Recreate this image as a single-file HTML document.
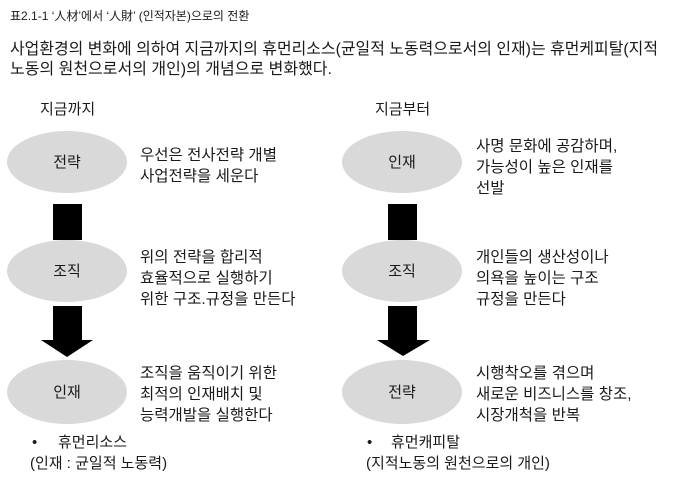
<!DOCTYPE html>
<html><head><meta charset="utf-8"><style>
body{margin:0;width:680px;height:483px;background:#fff;overflow:hidden}
svg text{font-family:"Liberation Sans","Noto Sans CJK KR",sans-serif;fill:#1a1a1a}
</style></head><body>
<svg width="680" height="483" xmlns="http://www.w3.org/2000/svg">
<text x="10" y="20" font-size="12">표2.1-1 ‘人材’에서 ‘人財’ (인적자본)으로의 전환</text>
<text x="10" y="54" font-size="16" textLength="648" lengthAdjust="spacingAndGlyphs">사업환경의 변화에 의하여 지금까지의 휴먼리소스(균일적 노동력으로서의 인재)는 휴먼케피탈(지적</text>
<text x="10" y="74" font-size="16">노동의 원천으로서의 개인)의 개념으로 변화했다.</text>
<text x="40" y="114" font-size="15">지금까지</text>
<text x="375" y="114" font-size="15">지금부터</text>
<g fill="#d9d9d9">
<ellipse cx="67" cy="162" rx="60" ry="31"/>
<ellipse cx="67" cy="271" rx="60" ry="31"/>
<ellipse cx="67" cy="392" rx="60" ry="32"/>
<ellipse cx="402" cy="162" rx="60" ry="31"/>
<ellipse cx="402" cy="271" rx="60" ry="31"/>
<ellipse cx="402" cy="392" rx="60" ry="32"/>
</g>
<g fill="#000">
<rect x="53" y="204" width="29" height="36"/>
<polygon points="53,306 82,306 82,340 93,340 67,357 41,340 53,340"/>
<rect x="388" y="204" width="29" height="36"/>
<polygon points="388,306 417,306 417,340 430,340 403,356 377,340 388,340"/>
</g>
<g font-size="15" text-anchor="middle">
<text x="67" y="167">전략</text><text x="67" y="276">조직</text><text x="67" y="397">인재</text>
<text x="402" y="167">인재</text><text x="402" y="276">조직</text><text x="402" y="397">전략</text>
</g>
<g font-size="15.5">
<text x="140" y="160">우선은 전사전략 개별</text>
<text x="140" y="181">사업전략을 세운다</text>
<text x="140" y="262">위의 전략을 합리적</text>
<text x="140" y="283">효율적으로 실행하기</text>
<text x="140" y="304">위한 구조.규정을 만든다</text>
<text x="140" y="378">조직을 움직이기 위한</text>
<text x="140" y="399">최적의 인재배치 및</text>
<text x="140" y="420">능력개발을 실행한다</text>
<text x="476" y="151">사명 문화에 공감하며,</text>
<text x="476" y="172">가능성이 높은 인재를</text>
<text x="476" y="193">선발</text>
<text x="476" y="262">개인들의 생산성이나</text>
<text x="476" y="283">의욕을 높이는 구조</text>
<text x="476" y="304">규정을 만든다</text>
<text x="476" y="378">시행착오를 겪으며</text>
<text x="476" y="399">새로운 비즈니스를 창조,</text>
<text x="476" y="420">시장개척을 반복</text>
</g>
<g font-size="15">
<text x="32" y="447">•</text><text x="58" y="447">휴먼리소스</text>
<text x="30" y="468">(인재 : 균일적 노동력)</text>
<text x="367" y="447">•</text><text x="391" y="447">휴먼캐피탈</text>
<text x="366" y="468">(지적노동의 원천으로의 개인)</text>
</g>
</svg>
</body></html>
